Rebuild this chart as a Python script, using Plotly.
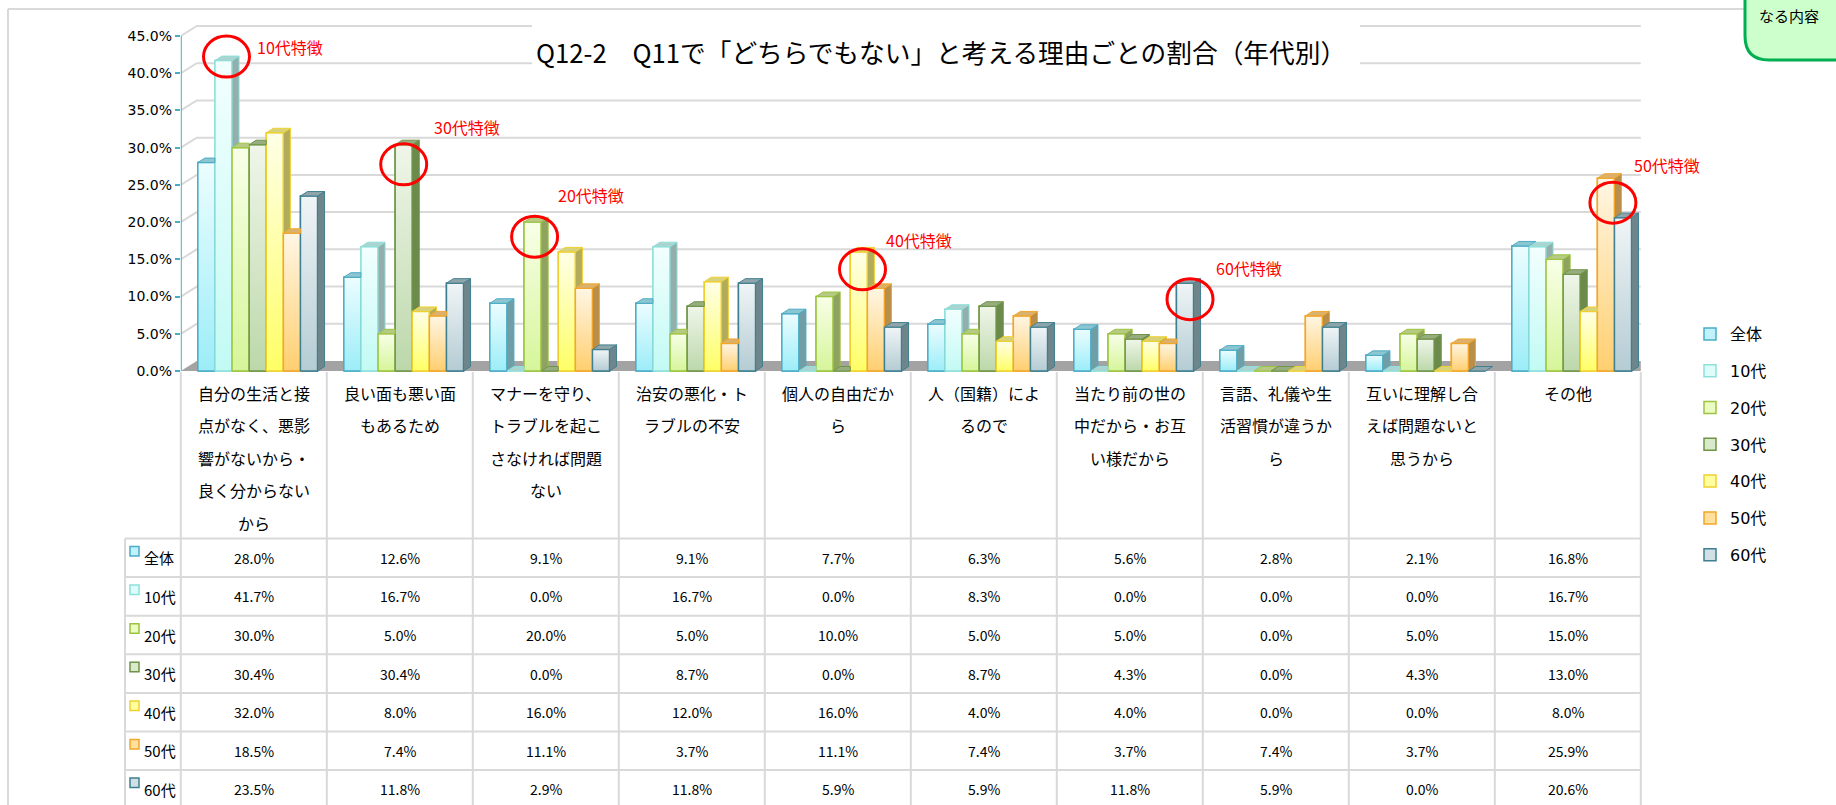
import plotly.graph_objects as go

W, H = 1836, 805

# ---------------- data ----------------
categories = [
    "自分の生活と接点がなく、悪影響がないから・良く分からないから",
    "良い面も悪い面もあるため",
    "マナーを守り、トラブルを起こさなければ問題ない",
    "治安の悪化・トラブルの不安",
    "個人の自由だから",
    "人（国籍）によるので",
    "当たり前の世の中だから・お互い様だから",
    "言語、礼儀や生活習慣が違うから",
    "互いに理解し合えば問題ないと思うから",
    "その他",
]
series_names = ["全体", "10代", "20代", "30代", "40代", "50代", "60代"]

share_all = [28.0, 12.6, 9.1, 9.1, 7.7, 6.3, 5.6, 2.8, 2.1, 16.8]
share_10s = [41.7, 16.7, 0.0, 16.7, 0.0, 8.3, 0.0, 0.0, 0.0, 16.7]
share_20s = [30.0, 5.0, 20.0, 5.0, 10.0, 5.0, 5.0, 0.0, 5.0, 15.0]
share_30s = [30.4, 30.4, 0.0, 8.7, 0.0, 8.7, 4.3, 0.0, 4.3, 13.0]
share_40s = [32.0, 8.0, 16.0, 12.0, 16.0, 4.0, 4.0, 0.0, 0.0, 8.0]
share_50s = [18.5, 7.4, 11.1, 3.7, 11.1, 7.4, 3.7, 7.4, 3.7, 25.9]
share_60s = [23.5, 11.8, 2.9, 11.8, 5.9, 5.9, 11.8, 5.9, 0.0, 20.6]

y_tick_values = [0, 5, 10, 15, 20, 25, 30, 35, 40, 45]
chart_title = "Q12-2　Q11で「どちらでもない」と考える理由ごとの割合（年代別）"

# highlighted bars: (series, category index, label)
highlights = [
    ("10代", 0, "10代特徴"),
    ("30代", 1, "30代特徴"),
    ("20代", 2, "20代特徴"),
    ("40代", 4, "40代特徴"),
    ("60代", 6, "60代特徴"),
    ("50代", 9, "50代特徴"),
]

series_values = [share_all, share_10s, share_20s, share_30s,
                 share_40s, share_50s, share_60s]

# ---------------- styles ----------------
JP = "Noto Sans CJK JP"
front_colors = ["#bff2fa", "#dcfdfa", "#ebfbc4", "#d8eaca", "#ffffa0", "#ffe09e", "#d0e0e5"]
grad_top = ["#ecfdff", "#f2fffe", "#f8ffe8", "#f0f6ea", "#ffffe8", "#fff6e4", "#f0f5f7"]
grad_bottom = ["#9cedf8", "#c2faf4", "#d6f59a", "#bcd8aa", "#ffff66", "#ffcf70", "#b4ccd3"]
edge_colors = ["#4bacc6", "#8fe0da", "#9cc43e", "#6f9447", "#efd12e", "#f2a62a", "#3f7f8f"]
top_colors = ["#8cc6d0", "#a9d4d0", "#b6ca86", "#98ad7e", "#d9d27c", "#dcb16b", "#8fa5aa"]
side_colors = ["#6f9ea6", "#93aeab", "#8fa25f", "#6b8a4c", "#b2ab5c", "#b98e4a", "#6e868b"]

# ---------------- geometry (pixels -> axis units) ----------------
X_LEFT, CAT_W = 180.8, 146.0
Y_ZERO, PX_PER_PCT = 371.0, 7.444
Y_LO, Y_HI = -1.0, 47.0

BAR_W = 17.1 / CAT_W
BAR_SHIFT = 3.9 / CAT_W
DEPTH_X, DEPTH_Y = 7.0 / CAT_W, 4.5 / PX_PER_PCT
WALL_X, WALL_Y = 16.0 / CAT_W, 10.0 / PX_PER_PCT


def fx(px):
    return px / W


def fy(py):
    return 1 - py / H


def px_to_x(px):
    return (px - X_LEFT) / CAT_W - 0.5


def py_to_y(py):
    return (Y_ZERO - py) / PX_PER_PCT


def bar_left(s, c):
    return c + BAR_SHIFT + (s - 3.5) * BAR_W


fig = go.Figure()

# the bars themselves (front faces)
for s, name in enumerate(series_names):
    xs = [bar_left(s, c) + BAR_W / 2 for c in range(len(categories))]
    fig.add_trace(go.Bar(
        x=xs, y=series_values[s], width=BAR_W, name=name, legendgroup=name,
        marker=dict(color=front_colors[s], line=dict(color=edge_colors[s], width=1.5)),
        hoverinfo="skip",
    ))

# vertical gradient shading on each front face
for s, name in enumerate(series_names):
    for c in range(len(categories)):
        v = series_values[s][c]
        if v <= 0:
            continue
        x0 = bar_left(s, c)
        x1 = x0 + BAR_W
        fig.add_trace(go.Scatter(
            x=[x0, x1, x1, x0, x0], y=[0, 0, v, v, 0], mode="lines",
            fill="toself",
            fillgradient=dict(type="vertical", start=0, stop=v,
                              colorscale=[[0, grad_bottom[s]], [1, grad_top[s]]]),
            line=dict(color=edge_colors[s], width=1.5),
            showlegend=False, hoverinfo="skip"))

# side and top faces give the columns their depth
for s, name in enumerate(series_names):
    sx, sy, tx, ty = [], [], [], []
    for c in range(len(categories)):
        v = series_values[s][c]
        x0 = bar_left(s, c)
        x1 = x0 + BAR_W
        last = s == len(series_names) - 1
        nxt = 0.0 if last else series_values[s + 1][c]
        if v > nxt:
            sx += [x1, x1 + DEPTH_X, x1 + DEPTH_X, x1, x1, None]
            sy += [nxt, nxt + DEPTH_Y, v + DEPTH_Y, v, nxt, None]
        if not last and nxt > v:
            tx += [x0, x1, x1, x0 + DEPTH_X, x0, None]
            ty += [v, v, v + DEPTH_Y, v + DEPTH_Y, v, None]
        else:
            tx += [x0, x1, x1 + DEPTH_X, x0 + DEPTH_X, x0, None]
            ty += [v, v, v + DEPTH_Y, v + DEPTH_Y, v, None]
    fig.add_trace(go.Scatter(x=sx, y=sy, mode="lines", fill="toself",
                             fillcolor=side_colors[s],
                             line=dict(color=edge_colors[s], width=1),
                             showlegend=False, hoverinfo="skip"))
    fig.add_trace(go.Scatter(x=tx, y=ty, mode="lines", fill="toself",
                             fillcolor=top_colors[s],
                             line=dict(color=edge_colors[s], width=1),
                             showlegend=False, hoverinfo="skip"))

shapes = []
x_min, x_max = -0.5, len(categories) - 0.5

# floor
shapes.append(dict(
    type="path", xref="x", yref="y", layer="below",
    path=(f"M{x_min},0 L{x_max},0 L{x_max + WALL_X},{WALL_Y} "
          f"L{x_min + WALL_X},{WALL_Y} Z"),
    fillcolor="#a3a3a3", line=dict(width=0),
))
# back-wall gridlines with their side-wall segment
for t in y_tick_values[1:]:
    shapes.append(dict(
        type="path", xref="x", yref="y", layer="below",
        path=(f"M{x_min},{t} L{x_min + WALL_X},{t + WALL_Y} "
              f"L{x_max + WALL_X},{t + WALL_Y}"),
        line=dict(color="#d9d9d9", width=2),
    ))
# white panel behind the title
shapes.append(dict(
    type="rect", xref="x", yref="y", layer="below",
    x0=px_to_x(532), x1=px_to_x(1360), y0=py_to_y(80), y1=py_to_y(14),
    fillcolor="white", line=dict(width=0),
))
# value axis line
shapes.append(dict(type="line", xref="x", yref="y", layer="above",
                   x0=x_min, x1=x_min, y0=0, y1=y_tick_values[-1],
                   line=dict(color="#4bacc6", width=2)))

# outer chart frame
shapes.append(dict(type="line", xref="paper", yref="paper",
                   x0=fx(8), x1=fx(1745), y0=fy(9), y1=fy(9),
                   line=dict(color="#d9d9d9", width=2)))
shapes.append(dict(type="line", xref="paper", yref="paper",
                   x0=fx(8), x1=fx(8), y0=fy(9), y1=fy(H + 5),
                   line=dict(color="#d9d9d9", width=2)))

# data table grid
GRID = "#d9d9d9"
ROW_TOP, ROW_H = 538.5, 38.6
n_rows = len(series_names)
for k in range(len(categories) + 1):
    xp = X_LEFT + k * CAT_W
    shapes.append(dict(type="line", xref="paper", yref="paper",
                       x0=fx(xp), x1=fx(xp), y0=fy(372), y1=fy(H + 5),
                       line=dict(color=GRID, width=2)))
shapes.append(dict(type="line", xref="paper", yref="paper",
                   x0=fx(125), x1=fx(125), y0=fy(ROW_TOP), y1=fy(H + 5),
                   line=dict(color=GRID, width=2)))
for r in range(n_rows + 1):
    yp = ROW_TOP + r * ROW_H
    shapes.append(dict(type="line", xref="paper", yref="paper",
                       x0=fx(125), x1=fx(X_LEFT + len(categories) * CAT_W),
                       y0=fy(yp), y1=fy(yp), line=dict(color=GRID, width=2)))
# legend keys inside the table
for r in range(n_rows):
    yp = ROW_TOP + r * ROW_H
    shapes.append(dict(type="rect", xref="paper", yref="paper",
                       x0=fx(130), x1=fx(139), y0=fy(yp + 17.5), y1=fy(yp + 8),
                       fillcolor=front_colors[r],
                       line=dict(color=edge_colors[r], width=1.5)))

# note box in the corner
bx0, by_bot, rad = 1745, 60, 24
shapes.append(dict(
    type="path", xref="paper", yref="paper", layer="above",
    path=(f"M{fx(bx0)},{fy(-20)} L{fx(bx0)},{fy(by_bot - rad)} "
          f"Q{fx(bx0)},{fy(by_bot)} {fx(bx0 + rad)},{fy(by_bot)} "
          f"L{fx(W + 20)},{fy(by_bot)} L{fx(W + 20)},{fy(-20)} Z"),
    fillcolor="#ccffcc", line=dict(color="#00b050", width=3),
))

annotations = []
annotations.append(dict(xref="paper", yref="paper", x=fx(1757), y=fy(15),
                        xanchor="left", yanchor="middle", showarrow=False,
                        text="なる内容", font=dict(family=JP, size=15, color="#000")))

# title
annotations.append(dict(xref="paper", yref="paper", x=fx(941), y=fy(51),
                        xanchor="center", yanchor="middle", showarrow=False,
                        text=chart_title, font=dict(family=JP, size=25.7, color="#000")))

# category headers (wrapped every 7 characters)
for c, label in enumerate(categories):
    lines = [label[i:i + 7] for i in range(0, len(label), 7)]
    for k, line in enumerate(lines):
        annotations.append(dict(
            xref="paper", yref="paper", x=fx(X_LEFT + CAT_W * (c + 0.5)),
            y=fy(393 + k * 32.4), xanchor="center", yanchor="middle",
            showarrow=False, text=line, font=dict(family=JP, size=16, color="#000")))

# table row labels and values
for r, name in enumerate(series_names):
    yc = ROW_TOP + r * ROW_H + ROW_H / 2
    annotations.append(dict(xref="paper", yref="paper", x=fx(142), y=fy(yc),
                            xanchor="left", yanchor="middle", showarrow=False,
                            text=name, font=dict(family=JP, size=15, color="#000")))
    for c in range(len(categories)):
        annotations.append(dict(
            xref="paper", yref="paper", x=fx(X_LEFT + CAT_W * (c + 0.5)), y=fy(yc),
            xanchor="center", yanchor="middle", showarrow=False,
            text=f"{series_values[r][c]:.1f}%",
            font=dict(family=JP, size=14, color="#000")))

# highlight circles and their labels (offsets in pixels from the bar top)
circle_offsets = {
    ("10代", 0): (3.0, -4.0, 28.0, -10.0),
    ("30代", 1): (0.0, 19.6, 28.0, -37.6),
    ("20代", 2): (2.0, 14.6, 21.4, -41.7),
    ("40代", 4): (3.7, 17.4, 21.0, -29.3),
    ("60代", 6): (5.0, 16.0, 23.8, -31.6),
    ("50代", 9): (7.0, 24.5, 18.8, -37.7),
}
for name, c, label in highlights:
    s = series_names.index(name)
    v = series_values[s][c]
    cx_px = X_LEFT + CAT_W * (bar_left(s, c) + BAR_W / 2 + 0.5)
    top_px = Y_ZERO - v * PX_PER_PCT
    dxc, dyc, dxl, dyl = circle_offsets[(name, c)]
    ccx, ccy = cx_px + dxc, top_px + dyc
    shapes.append(dict(type="circle", xref="x", yref="y", layer="above",
                       x0=px_to_x(ccx - 23), x1=px_to_x(ccx + 23),
                       y0=py_to_y(ccy + 20.5), y1=py_to_y(ccy - 20.5),
                       line=dict(color="#ff0000", width=3)))
    annotations.append(dict(xref="x", yref="y", x=px_to_x(ccx + dxl),
                            y=py_to_y(ccy + dyl), xanchor="left", yanchor="middle",
                            showarrow=False, text=label,
                            font=dict(family=JP, size=16, color="#ff0000")))

fig.update_layout(
    width=W, height=H, autosize=False,
    margin=dict(l=0, r=0, t=0, b=0),
    paper_bgcolor="white", plot_bgcolor="rgba(0,0,0,0)",
    barmode="overlay",
    showlegend=True,
    legend=dict(x=fx(1690), y=fy(317), xanchor="left", yanchor="top",
                font=dict(family=f"DejaVu Sans, {JP}", size=16, color="#000"),
                tracegroupgap=13, bgcolor="rgba(0,0,0,0)"),
    xaxis=dict(domain=[fx(X_LEFT), fx(X_LEFT + len(categories) * CAT_W)],
               range=[x_min, x_max], showticklabels=False, showgrid=False,
               zeroline=False, showline=False, fixedrange=True),
    yaxis=dict(domain=[fy(Y_ZERO - Y_LO * PX_PER_PCT), fy(Y_ZERO - Y_HI * PX_PER_PCT)],
               range=[Y_LO, Y_HI], tickvals=y_tick_values,
               ticktext=[f"{t:.1f}%" for t in y_tick_values],
               ticks="outside", ticklen=5, tickwidth=1.5, tickcolor="#4bacc6",
               tickfont=dict(family="DejaVu Sans", size=14, color="#000"),
               showgrid=False, zeroline=False, showline=False, fixedrange=True),
    shapes=shapes, annotations=annotations,
)

fig.write_html("out.html")
